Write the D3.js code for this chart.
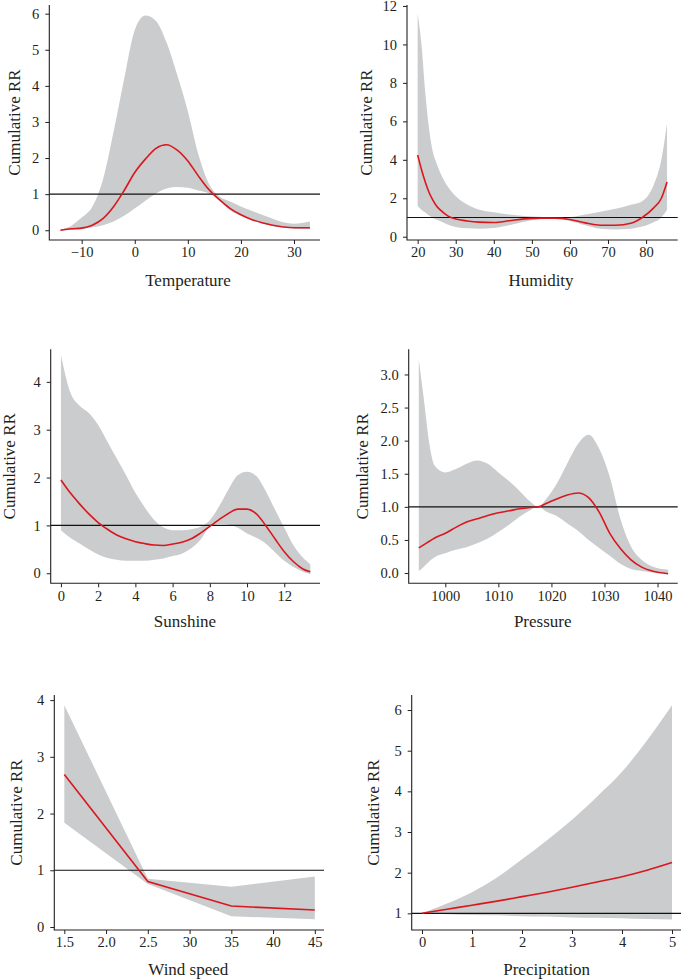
<!DOCTYPE html>
<html>
<head>
<meta charset="utf-8">
<script src="https://cdn.jsdelivr.net/npm/d3@7"></script>
<style>
  body { margin: 0; background: #fff; }
  svg { display: block; }
  .tick text, .title { font-family: "Liberation Serif", "DejaVu Serif", serif; fill: #231f20; }
</style>
</head>
<body>
<svg id="chart" width="682" height="979"></svg>
<script>
// temperature
const tempX    = [-14, -12, -10, -8, -6, -4, -2, 0, 2, 4, 6, 8, 10, 12, 14, 16, 18, 20, 22, 24, 26, 28, 30, 33];
const tempRR   = [0.0, 0.04, 0.06, 0.14, 0.32, 0.65, 1.1, 1.6, 1.97, 2.27, 2.37, 2.22, 1.92, 1.5, 1.12, 0.84, 0.6, 0.43, 0.3, 0.21, 0.14, 0.09, 0.07, 0.07];
const tempLow  = [0.0, 0.01, 0.03, 0.08, 0.14, 0.24, 0.4, 0.6, 0.82, 1.02, 1.16, 1.2, 1.18, 1.1, 1.02, 0.82, 0.55, 0.4, 0.28, 0.19, 0.12, 0.08, 0.05, 0.03];
const tempHigh = [0.02, 0.12, 0.35, 0.65, 1.4, 2.72, 4.2, 5.55, 5.95, 5.8, 5.2, 4.3, 3.3, 2.1, 1.28, 0.93, 0.8, 0.66, 0.54, 0.43, 0.32, 0.22, 0.18, 0.24];

// humidity
const humX    = [20, 21, 22, 23, 24, 25, 26, 28, 30, 33, 36, 40, 44, 48, 52, 56, 60, 64, 68, 72, 76, 79, 82, 84, 85.5];
const humRR   = [4.25, 3.5, 2.85, 2.3, 1.9, 1.58, 1.38, 1.07, 0.92, 0.82, 0.76, 0.74, 0.83, 0.93, 0.97, 0.97, 0.9, 0.72, 0.6, 0.6, 0.7, 1.0, 1.5, 2.0, 2.85];
const humLow  = [1.6, 1.4, 1.26, 1.1, 0.98, 0.88, 0.8, 0.62, 0.51, 0.44, 0.42, 0.46, 0.6, 0.78, 0.91, 0.94, 0.82, 0.6, 0.42, 0.38, 0.42, 0.53, 0.75, 1.0, 1.4];
const humHigh = [11.6, 10, 7.5, 5.6, 4.4, 3.8, 3.3, 2.58, 2.1, 1.68, 1.42, 1.27, 1.16, 1.08, 1.04, 1.0, 1.02, 1.15, 1.3, 1.45, 1.66, 1.85, 2.7, 4.0, 5.9];

// sunshine
const sunX    = [0, 0.5, 1, 1.5, 2, 2.5, 3, 3.5, 4, 4.5, 5, 5.5, 6, 6.5, 7, 7.5, 8, 8.5, 9, 9.5, 10, 10.5, 11, 11.5, 12, 12.5, 13, 13.4];
const sunRR   = [1.95, 1.68, 1.45, 1.24, 1.06, 0.92, 0.8, 0.72, 0.66, 0.62, 0.59, 0.58, 0.61, 0.65, 0.72, 0.84, 0.98, 1.12, 1.25, 1.34, 1.34, 1.24, 1.0, 0.72, 0.45, 0.24, 0.09, 0.03];
const sunLow  = [0.9, 0.74, 0.62, 0.5, 0.39, 0.32, 0.28, 0.26, 0.26, 0.26, 0.28, 0.31, 0.36, 0.41, 0.52, 0.7, 0.97, 1.03, 1.02, 0.95, 0.83, 0.74, 0.62, 0.44, 0.26, 0.13, 0.03, -0.02];
const sunHigh = [4.56, 3.78, 3.5, 3.35, 3.1, 2.75, 2.4, 2.05, 1.68, 1.38, 1.12, 0.96, 0.9, 0.9, 0.92, 0.97, 1.11, 1.4, 1.75, 2.05, 2.12, 2.03, 1.72, 1.33, 0.95, 0.58, 0.33, 0.19];

// pressure
const presX    = [995, 996, 997, 998, 1000, 1002, 1004, 1006, 1008, 1010, 1012, 1014, 1016, 1017.5, 1019, 1021, 1023, 1025, 1027, 1029, 1031, 1033, 1035, 1037, 1039, 1042];
const presRR   = [0.38, 0.43, 0.48, 0.53, 0.6, 0.69, 0.77, 0.82, 0.87, 0.91, 0.94, 0.97, 0.99, 1.0, 1.05, 1.12, 1.18, 1.21, 1.14, 0.92, 0.6, 0.37, 0.2, 0.09, 0.03, -0.01];
const presLow  = [0.03, 0.1, 0.18, 0.24, 0.3, 0.35, 0.39, 0.45, 0.52, 0.62, 0.73, 0.85, 0.95, 1.0, 0.93, 0.86, 0.75, 0.64, 0.5, 0.38, 0.26, 0.14, 0.06, 0.03, 0.01, 0.0];
const presHigh = [3.23, 2.6, 1.95, 1.62, 1.52, 1.57, 1.65, 1.7, 1.65, 1.52, 1.39, 1.24, 1.08, 1.0, 1.12, 1.35, 1.66, 1.95, 2.09, 1.88, 1.45, 0.82, 0.4, 0.2, 0.1, 0.05];

// wind speed (axis labels printed as in the figure)
const windX      = [1.5, 2.5, 3.5, 4.5];
const windRR     = [2.69, 0.8, 0.37, 0.3];
const windLow    = [1.84, 0.76, 0.19, 0.135];
const windHigh   = [3.91, 0.85, 0.71, 0.89];
const windTicks  = [1.5, 2.0, 2.5, 3.0, 3.5, 4.0, 4.5];
const windLabels = ["1.5", "2.0", "2.5", "30", "35", "40", "45"];

// precipitation
const precX    = [0, 0.5, 1, 1.5, 2, 2.5, 3, 3.5, 4, 4.5, 5];
const precRR   = [1.0, 1.1, 1.2, 1.3, 1.41, 1.52, 1.64, 1.77, 1.9, 2.06, 2.25];
const precLow  = [1.0, 0.98, 0.96, 0.95, 0.93, 0.92, 0.9, 0.89, 0.88, 0.86, 0.85];
const precHigh = [1.0, 1.24, 1.52, 1.88, 2.33, 2.8, 3.3, 3.87, 4.48, 5.25, 6.12];

const zip = (x, rr, lo, hi) => x.map((v, i) => ({x: v, rr: rr[i], lo: lo[i], hi: hi[i]}));

const panels = [
  { data: zip(tempX, tempRR, tempLow, tempHigh), title: "Temperature",
    box: [49.3, 320, 5, 240], xd: [-16.1, 34.9], yd: [-0.27, 6.24],
    xt: [-10, 0, 10, 20, 30], yt: [0, 1, 2, 3, 4, 5, 6], titleX: 188, titleY: 286, ylabX: 20 },
  { data: zip(humX, humRR, humLow, humHigh), title: "Humidity",
    box: [407, 677.7, 5, 240], xd: [17.2, 88.3], yd: [-0.17, 12.05],
    xt: [20, 30, 40, 50, 60, 70, 80], yt: [0, 2, 4, 6, 8, 10, 12], titleX: 541, titleY: 286, ylabX: 371.7 },
  { data: zip(sunX, sunRR, sunLow, sunHigh), title: "Sunshine",
    box: [50.7, 320, 349.3, 583.3], xd: [-0.55, 13.92], yd: [-0.21, 4.68],
    xt: [0, 2, 4, 6, 8, 10, 12], yt: [0, 1, 2, 3, 4], titleX: 185, titleY: 627, ylabX: 15 },
  { data: zip(presX, presRR, presLow, presHigh), title: "Pressure",
    box: [408.7, 677.7, 349.3, 583.3], xd: [993.1, 1043.8], yd: [-0.155, 3.38],
    xt: [1000, 1010, 1020, 1030, 1040], yt: [0, 0.5, 1, 1.5, 2, 2.5, 3], yfmt: d3.format(".1f"),
    titleX: 542.7, titleY: 627, ylabX: 367.7 },
  { data: zip(windX, windRR, windLow, windHigh), title: "Wind speed", linear: true,
    box: [54.3, 324, 695, 930], xd: [1.38, 4.61], yd: [-0.053, 4.09],
    xt: windTicks, xfmt: (d, i) => windLabels[i], yt: [0, 1, 2, 3, 4],
    titleX: 188.3, titleY: 975, ylabX: 22.3 },
  { data: zip(precX, precRR, precLow, precHigh), title: "Precipitation",
    box: [411.7, 681, 695, 930], xd: [-0.206, 5.18], yd: [0.59, 6.37],
    xt: [0, 1, 2, 3, 4, 5], yt: [1, 2, 3, 4, 5, 6], titleX: 546.7, titleY: 975, ylabX: 379.3 }
];

const svg = d3.select("#chart");
const minusFmt = d => d < 0 ? "\u2212" + Math.abs(d) : String(d);

panels.forEach(p => {
  const [left, right, top, bottom] = p.box;
  const x = d3.scaleLinear().domain(p.xd).range([left, right]);
  const y = d3.scaleLinear().domain(p.yd).range([bottom, top]);
  const curve = p.linear ? d3.curveLinear : d3.curveMonotoneX;
  const g = svg.append("g");

  g.append("path")
    .datum(p.data)
    .attr("fill", "#cbcccd")
    .attr("d", d3.area().x(d => x(d.x)).y0(d => y(d.lo)).y1(d => y(d.hi)).curve(curve));

  g.append("line")
    .attr("x1", left).attr("x2", right)
    .attr("y1", y(1)).attr("y2", y(1))
    .attr("stroke", "#111").attr("stroke-width", 1.1);

  g.append("path")
    .datum(p.data)
    .attr("fill", "none")
    .attr("stroke", "#d9171e")
    .attr("stroke-width", 1.6)
    .attr("d", d3.line().x(d => x(d.x)).y(d => y(d.rr)).curve(curve));

  const xAxis = g.append("g")
    .attr("transform", `translate(0,${bottom})`)
    .call(d3.axisBottom(x).tickValues(p.xt).tickSize(4).tickPadding(3)
      .tickFormat(p.xfmt || minusFmt));
  const yAxis = g.append("g")
    .attr("transform", `translate(${left},0)`)
    .call(d3.axisLeft(y).tickValues(p.yt).tickSize(4).tickPadding(6)
      .tickFormat(p.yfmt || minusFmt));

  [xAxis, yAxis].forEach(a => {
    a.attr("font-size", null).attr("font-family", null);
    a.select(".domain").remove();
    a.selectAll(".tick line").attr("stroke", "#231f20");
    a.selectAll(".tick text").style("font-size", "14.5px");
  });

  // L-shaped frame
  g.append("path")
    .attr("d", `M${left},${top}V${bottom}H${right}`)
    .attr("fill", "none").attr("stroke", "#231f20").attr("stroke-width", 1.1);

  g.append("text").attr("class", "title")
    .attr("x", p.titleX).attr("y", p.titleY)
    .attr("text-anchor", "middle")
    .style("font-size", "17px")
    .text(p.title);

  g.append("text").attr("class", "title")
    .attr("transform", `translate(${p.ylabX},${(top + bottom) / 2}) rotate(-90)`)
    .attr("text-anchor", "middle")
    .style("font-size", "17px")
    .text("Cumulative RR");
});
</script>
</body>
</html>
